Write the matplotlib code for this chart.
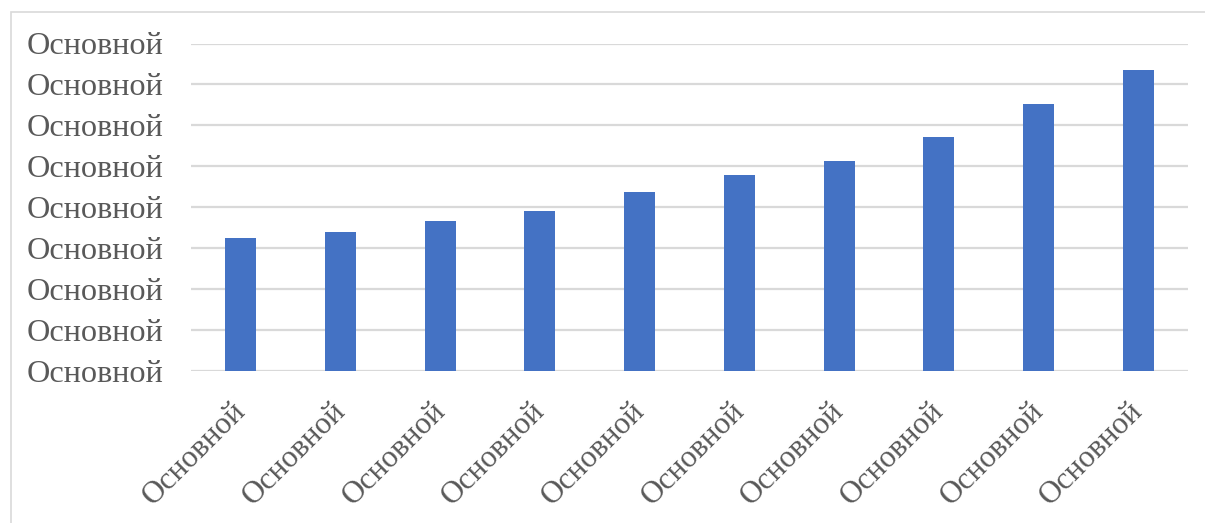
import numpy as np
import matplotlib.pyplot as plt
import matplotlib.transforms as mtransforms
from matplotlib.patches import Rectangle

plt.rcParams['font.family'] = ['Liberation Serif', 'DejaVu Serif']

# data
categories = ['Основной'] * 10
values = [3.24, 3.39, 3.66, 3.91, 4.37, 4.79, 5.13, 5.71, 6.53, 7.36]
y_ticks = [0, 1, 2, 3, 4, 5, 6, 7, 8]
y_labels = ['Основной'] * 9

text_color = '#595959'
grid_color = '#D9D9D9'
bar_color = '#4472C4'

fig = plt.figure(figsize=(12.05, 5.23), dpi=100)
ax = fig.add_axes([191 / 1205, 1 - 370.5 / 523, (1188 - 191) / 1205, (370.5 - 43.5) / 523])

x = np.arange(len(categories))
ax.bar(x, values, width=0.31, color=bar_color, zorder=3)

ax.set_xlim(-0.5, len(categories) - 0.5)
ax.set_ylim(0, 8)
ax.set_yticks(y_ticks)
ax.set_yticklabels(y_labels)
ax.set_xticks(x)
ax.set_xticklabels(categories, rotation=45, ha='right', rotation_mode='default')

ax.yaxis.grid(True, color=grid_color, linewidth=1.6, zorder=0)
for s in ax.spines.values():
    s.set_visible(False)
ax.tick_params(axis='y', length=0, colors=text_color, labelsize=23.2, pad=20)
ax.tick_params(axis='x', length=0, colors=text_color, labelsize=22.5, pad=19)

# nudge rotated labels to the right like Excel does
shift = mtransforms.ScaledTranslation(11 / 100, 0, fig.dpi_scale_trans)
for lbl in ax.get_xticklabels():
    lbl.set_transform(lbl.get_transform() + shift)

# outer chart frame
fig.patches.append(Rectangle((11 / 1205, -0.1), 1.2, 1 - 12 / 523 + 0.1,
                             transform=fig.transFigure, fill=False,
                             edgecolor=grid_color, linewidth=1.2))

fig.savefig('out.png', dpi=100)
